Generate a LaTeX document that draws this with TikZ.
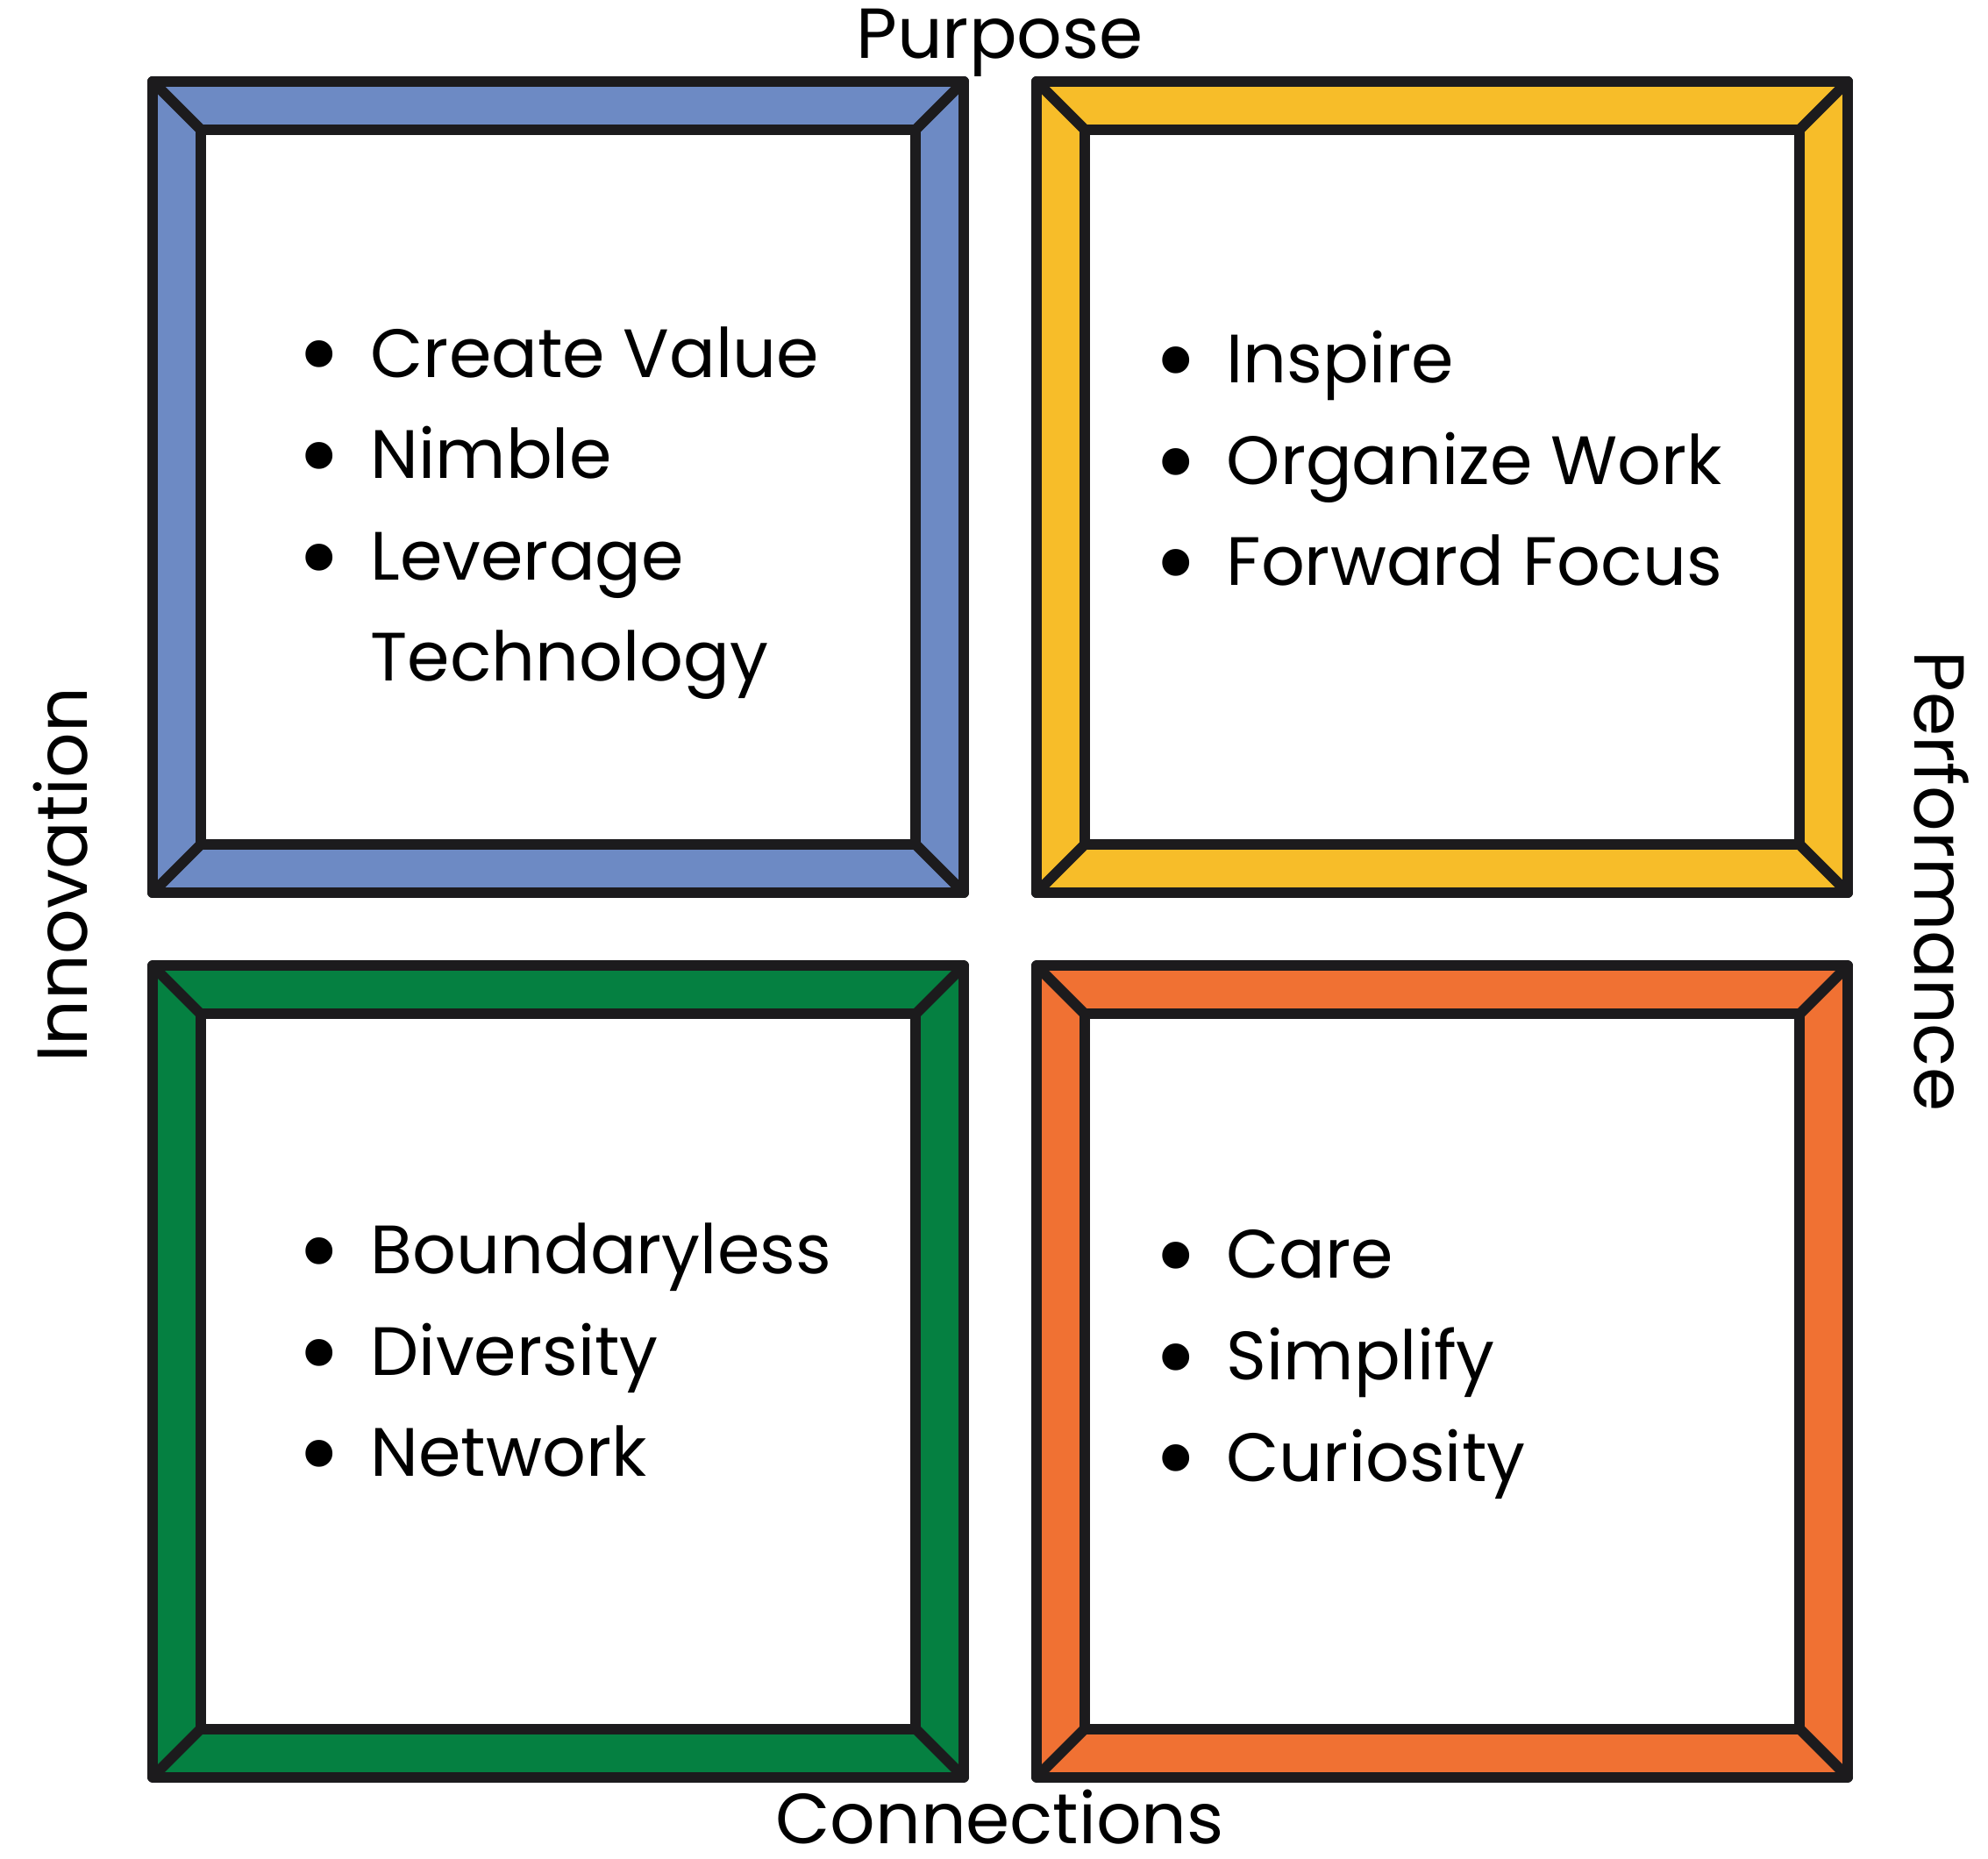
\documentclass[tikz,border=0pt]{standalone}
\usepackage{fontspec}
\setmainfont{Poppins}
\usetikzlibrary{positioning}

\definecolor{qblue}{RGB}{109,138,196}
\definecolor{qyellow}{RGB}{247,189,41}
\definecolor{qgreen}{RGB}{5,128,65}
\definecolor{qorange}{RGB}{240,113,51}
\definecolor{ink}{RGB}{28,27,29}

% bullet sitting in a fixed slot in front of each entry
\newcommand{\bul}{\makebox[1.16cm][c]{\raisebox{-4.5pt}{\scalebox{1.6}{\textbullet}}}}
\newcommand{\nobul}{\makebox[1.16cm]{}}

\begin{document}
\begin{tikzpicture}[
    quad/.style={shape=rectangle, draw=ink, line width=0.12cm, line join=round,
        minimum size=9.25cm, inner sep=0pt, outer sep=0pt},
    pane/.style={shape=rectangle, draw=ink, fill=white, line width=0.12cm,
        minimum size=8.15cm, inner sep=0pt, outer sep=0pt},
    bevel/.style={draw=ink, line width=0.12cm, line cap=round},
    items/.style={anchor=base west, align=left, inner sep=0pt,
        font=\fontsize{22.2}{32.9}\selectfont},
    side/.style={anchor=base, inner sep=0pt, text depth=0pt,
        font=\fontsize{23}{28}\selectfont}
]
    \useasboundingbox (0,0) rectangle (22.67,21.19);

    \node[quad, fill=qblue]   (B) at (6.365,15.635) {};
    \node[quad, fill=qyellow] (Y) at (16.445,15.635) {};
    \node[quad, fill=qgreen]  (G) at (6.365,5.55) {};
    \node[quad, fill=qorange] (O) at (16.445,5.55) {};

    \node[pane] (Bi) at (B) {};
    \node[pane] (Yi) at (Y) {};
    \node[pane] (Gi) at (G) {};
    \node[pane] (Oi) at (O) {};

    \draw[bevel] (B.north west) -- (Bi.north west);
    \draw[bevel] (B.north east) -- (Bi.north east);
    \draw[bevel] (B.south west) -- (Bi.south west);
    \draw[bevel] (B.south east) -- (Bi.south east);

    \draw[bevel] (Y.north west) -- (Yi.north west);
    \draw[bevel] (Y.north east) -- (Yi.north east);
    \draw[bevel] (Y.south west) -- (Yi.south west);
    \draw[bevel] (Y.south east) -- (Yi.south east);

    \draw[bevel] (G.north west) -- (Gi.north west);
    \draw[bevel] (G.north east) -- (Gi.north east);
    \draw[bevel] (G.south west) -- (Gi.south west);
    \draw[bevel] (G.south east) -- (Gi.south east);

    \draw[bevel] (O.north west) -- (Oi.north west);
    \draw[bevel] (O.north east) -- (Oi.north east);
    \draw[bevel] (O.south west) -- (Oi.south west);
    \draw[bevel] (O.south east) -- (Oi.south east);

    % the four lists (base = last line)
    \node[items] (Blist) at (3.06,13.42) {\bul Create Value\\ \bul Nimble\\ \bul Leverage\\ \nobul Technology};
    \node[items] (Ylist) at (12.82,14.51) {\bul Inspire\\ \bul Organize Work\\ \bul Forward Focus};
    \node[items] (Glist) at (3.06,4.35) {\bul Boundaryless\\ \bul Diversity\\ \bul Network};
    \node[items] (Olist) at (12.82,4.30) {\bul Care\\ \bul Simplify\\ \bul Curiosity};

    % axis words round the grid
    \node[side] (purpose) at (11.40,20.52) {Purpose};
    \node[side] (connections) at (11.40,0.17) {Connections};
    \node[side, rotate=90] (innovation) at (0.99,11.21) {Innovation};
    \node[side, rotate=-90] (performance) at (21.83,11.14) {Performance};

\end{tikzpicture}
\end{document}
